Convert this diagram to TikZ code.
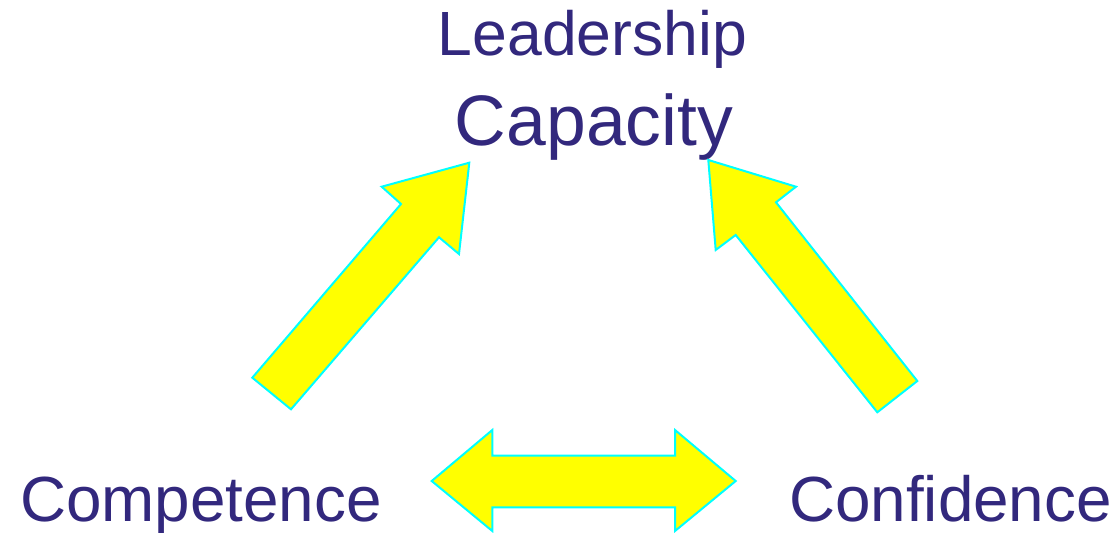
\documentclass[tikz,border=0pt]{standalone}
\usepackage{fontspec}
\setmainfont{Liberation Sans}
\definecolor{txtpurple}{RGB}{50,40,125}
\definecolor{arrowfill}{RGB}{255,255,0}
\definecolor{arrowline}{RGB}{0,255,255}
\tikzset{
  blockarrow/.style={fill=arrowfill, draw=arrowline, line width=2pt, line join=miter},
  label/.style={text=txtpurple, inner sep=0pt, anchor=base}
}
\begin{document}
\begin{tikzpicture}[x=1pt,y=-1pt]
\useasboundingbox (0,0) rectangle (1117,533);
% labels
\node[label, font=\fontsize{62.5}{62.5}\selectfont] (lead) at (592.5,55) {Leadership};
\node[label, font=\fontsize{71.5}{71.5}\selectfont] (cap) at (594,145) {Capacity};
\node[label, font=\fontsize{63.8}{63.8}\selectfont] (comp) at (201,521.7) {Competence};
\node[label, font=\fontsize{63.8}{63.8}\selectfont] (conf) at (950.5,521.7) {Confidence};
% left arrow (Competence -> Capacity)
\draw[blockarrow] (469.3,162.7) -- (459,254) -- (439,237.3) -- (291,409.3)
  -- (252.3,377.7) -- (401,204) -- (381.7,186.7) -- cycle;
% right arrow (Confidence -> Capacity)
\draw[blockarrow] (708.3,160) -- (796,186.7) -- (776,202.3) -- (917.3,381)
  -- (877.3,412.3) -- (735.7,235) -- (715.7,250) -- cycle;
% double arrow
\draw[blockarrow] (431.7,481) -- (492.3,430) -- (492.3,455.7) -- (675,455.7)
  -- (675,430) -- (735.7,481) -- (675,531) -- (675,507.3) -- (492.3,507.3)
  -- (492.3,531) -- cycle;
\end{tikzpicture}
\end{document}
